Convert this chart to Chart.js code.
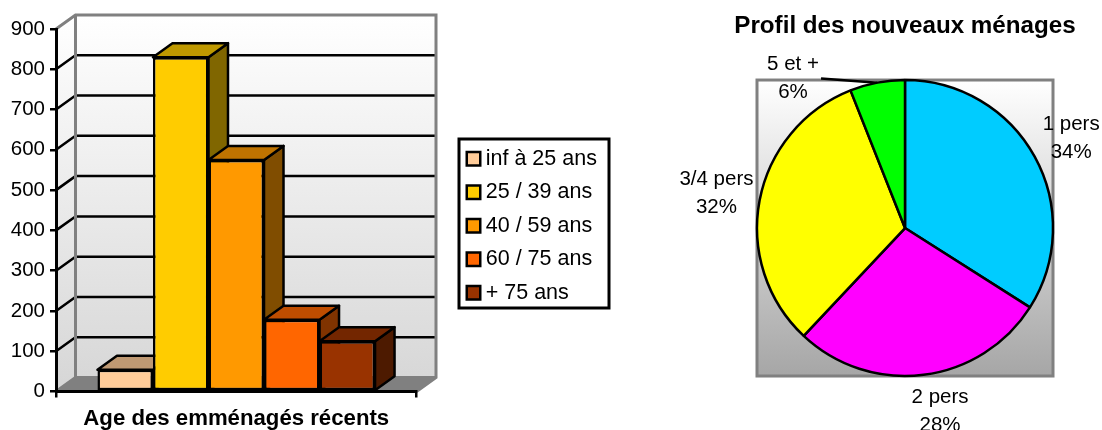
<!DOCTYPE html>
<html>
<head>
<meta charset="utf-8">
<script src="https://cdn.jsdelivr.net/npm/chart.js@4/dist/chart.umd.min.js"></script>
<style>
  body { margin: 0; background: #fff; overflow: hidden; }
  canvas { position: absolute; top: 0; }
  #age-chart { left: 0; }
  #profil-chart { left: 620px; }
</style>
</head>
<body>
<canvas id="age-chart" width="620" height="430"></canvas>
<canvas id="profil-chart" width="570" height="430"></canvas>
<script>
const ageLabels = ['inf à 25 ans', '25 / 39 ans', '40 / 59 ans', '60 / 75 ans', '+ 75 ans'];
const ageValues = [54, 830, 575, 178, 125];
const ageColors = ['#FFCC99', '#FFCC00', '#FF9900', '#FF6600', '#993300'];
const ageTitle = 'Age des emménagés récents';

const profilLabels = ['1 pers', '2 pers', '3/4 pers', '5 et +'];
const profilValues = [34, 28, 32, 6];
const profilColors = ['#00CCFF', '#FF00FF', '#FFFF00', '#00FF00'];
const profilTitle = 'Profil des nouveaux ménages';

Chart.defaults.font.family = '"Liberation Sans", Arial, sans-serif';
Chart.defaults.color = '#000';
Chart.defaults.animation = false;

const DEPTH_X = 19.5;
const DEPTH_Y = 14;
const WALL_GREY = '#808080';
const INK = 2.5;

// darker version of a bar colour, for the top and side faces
function shade(hex, k) {
  const n = parseInt(hex.slice(1), 16);
  const c = [n >> 16, (n >> 8) & 255, n & 255].map(v => Math.round(v * k));
  return `rgb(${c[0]},${c[1]},${c[2]})`;
}

function poly(ctx, pts, fill, stroke, width) {
  ctx.beginPath();
  pts.forEach((p, i) => i ? ctx.lineTo(p[0], p[1]) : ctx.moveTo(p[0], p[1]));
  ctx.closePath();
  if (fill) { ctx.fillStyle = fill; ctx.fill(); }
  if (stroke) { ctx.strokeStyle = stroke; ctx.lineWidth = width; ctx.stroke(); }
}

// back wall, side wall, floor and the gridlines that run across them
const boxWalls = {
  id: 'boxWalls',
  beforeDraw(chart) {
    const { ctx, chartArea: { left, right, top, bottom }, scales: { y } } = chart;
    const grad = ctx.createLinearGradient(0, top - DEPTH_Y, 0, bottom);
    grad.addColorStop(0, '#ffffff');
    grad.addColorStop(1, '#d6d6d6');
    const bx = left + DEPTH_X, tx = right + DEPTH_X;
    const by = bottom - DEPTH_Y, ty = top - DEPTH_Y;
    ctx.save();
    poly(ctx, [[bx, ty], [tx, ty], [tx, by], [bx, by]], grad);
    poly(ctx, [[left, top], [bx, ty], [bx, by], [left, bottom]], grad);
    poly(ctx, [[left, bottom], [bx, by], [tx, by], [right, bottom]], WALL_GREY);

    ctx.strokeStyle = '#000';
    ctx.lineWidth = INK;
    y.ticks.forEach(t => {
      if (t.value === 0 || t.value === y.max) return;
      const py = y.getPixelForValue(t.value);
      ctx.beginPath();
      ctx.moveTo(left, py);
      ctx.lineTo(bx, py - DEPTH_Y);
      ctx.lineTo(tx, py - DEPTH_Y);
      ctx.stroke();
    });

    ctx.strokeStyle = WALL_GREY;
    ctx.lineWidth = 3;
    ctx.beginPath();
    ctx.moveTo(left, top);
    ctx.lineTo(bx, ty);
    ctx.lineTo(tx, ty);
    ctx.lineTo(tx, by);
    ctx.lineTo(right, bottom);
    ctx.moveTo(bx, ty);
    ctx.lineTo(bx, by);
    ctx.lineTo(left, bottom);
    ctx.moveTo(bx, by);
    ctx.lineTo(tx, by);
    ctx.stroke();
    ctx.restore();
  }
};

// top and side faces of each bar; the fronts are drawn over them by the library
const barFaces = {
  id: 'barFaces',
  beforeDatasetsDraw(chart) {
    const { ctx } = chart;
    ctx.save();
    ctx.lineJoin = 'round';
    chart.data.datasets.forEach((ds, i) => {
      const bar = chart.getDatasetMeta(i).data[0];
      const { x, y, base, width } = bar.getProps(['x', 'y', 'base', 'width']);
      const l = x - width / 2, r = x + width / 2;
      poly(ctx, [[r, y], [r + DEPTH_X, y - DEPTH_Y], [r + DEPTH_X, base - DEPTH_Y], [r, base]],
        shade(ds.backgroundColor, 0.5), '#000', INK);
      poly(ctx, [[l, y], [l + DEPTH_X, y - DEPTH_Y], [r + DEPTH_X, y - DEPTH_Y], [r, y]],
        shade(ds.backgroundColor, 0.75), '#000', INK);
    });
    ctx.restore();
  }
};

// the legend sits beside the plot in its own framed box
const LEGEND_BOX = { left: 459, top: 139, right: 609, bottom: 308 };
const legendFrame = {
  id: 'legendFrame',
  afterLayout(chart) {
    const lg = chart.legend;
    lg.left = LEGEND_BOX.left + 1;
    lg.right = LEGEND_BOX.right;
    lg.top = LEGEND_BOX.top - 3;
    // roomy bottom edge so the entries stay in a single column
    lg.bottom = LEGEND_BOX.bottom + 60;
  },
  afterDraw(chart) {
    const { ctx } = chart;
    ctx.save();
    ctx.strokeStyle = '#000';
    ctx.lineWidth = 3;
    ctx.strokeRect(LEGEND_BOX.left, LEGEND_BOX.top,
      LEGEND_BOX.right - LEGEND_BOX.left, LEGEND_BOX.bottom - LEGEND_BOX.top);
    ctx.restore();
  }
};

new Chart(document.getElementById('age-chart'), {
  type: 'bar',
  data: {
    labels: [''],
    datasets: ageLabels.map((label, i) => ({
      label: label,
      data: [ageValues[i]],
      backgroundColor: ageColors[i],
      borderColor: '#000',
      borderWidth: INK,
      borderSkipped: false,
      barPercentage: 1,
      categoryPercentage: 0.77
    }))
  },
  options: {
    responsive: false,
    layout: { padding: { top: 29, right: 203.5, bottom: 0, left: 0 } },
    plugins: {
      title: { display: false },
      tooltip: { enabled: false },
      legend: {
        position: 'chartArea',
        align: 'start',
        labels: {
          usePointStyle: true,
          pointStyle: 'rect',
          boxWidth: 3,
          boxHeight: 13.5,
          padding: 12,
          font: { size: 21.5 }
        }
      }
    },
    scales: {
      x: {
        afterFit(scale) { scale.height = 38.5; },
        grid: { color: '#000', lineWidth: INK, tickLength: 6, drawOnChartArea: false },
        border: { color: '#000', width: 3 },
        ticks: { display: true },
        title: {
          display: true,
          text: ageTitle,
          font: { size: 22.2, weight: 'bold' },
          padding: { top: 0, bottom: -2 }
        }
      },
      y: {
        min: 0,
        max: 900,
        afterFit(scale) { scale.width = 56; },
        grid: { color: '#000', lineWidth: INK, tickLength: 6, drawOnChartArea: false },
        border: { color: '#000', width: 3 },
        ticks: { stepSize: 100, padding: 5, font: { size: 20.5 } }
      }
    }
  },
  plugins: [boxWalls, barFaces, legendFrame]
});

// shaded square behind the pie, sized from the pie itself
const pieBackdrop = {
  id: 'pieBackdrop',
  beforeDatasetsDraw(chart) {
    const { ctx } = chart;
    const { x, y, outerRadius: r } = chart.getDatasetMeta(0).data[0].getProps(['x', 'y', 'outerRadius']);
    const grad = ctx.createLinearGradient(0, y - r, 0, y + r);
    grad.addColorStop(0, '#ffffff');
    grad.addColorStop(1, '#a6a6a6');
    ctx.save();
    ctx.fillStyle = grad;
    ctx.fillRect(x - r, y - r, 2 * r, 2 * r);
    ctx.strokeStyle = WALL_GREY;
    ctx.lineWidth = 3;
    ctx.strokeRect(x - r, y - r, 2 * r, 2 * r);
    ctx.restore();
  }
};

// pixel nudges from the default label spot, one per slice
const labelNudge = [[-2, 3], [11, -7], [0, 1], [-76, 39]];
const LABEL_RADIUS = 1.297;
const LINE_HEIGHT = 28;

const pieLabels = {
  id: 'pieLabels',
  afterDatasetsDraw(chart) {
    const { ctx } = chart;
    const total = profilValues.reduce((a, b) => a + b, 0);
    ctx.save();
    ctx.font = '20.5px "Liberation Sans", Arial, sans-serif';
    ctx.textAlign = 'center';
    ctx.textBaseline = 'middle';
    chart.getDatasetMeta(0).data.forEach((arc, i) => {
      const { x, y, startAngle, endAngle, outerRadius } =
        arc.getProps(['x', 'y', 'startAngle', 'endAngle', 'outerRadius']);
      const mid = (startAngle + endAngle) / 2;
      const lx = x + Math.cos(mid) * outerRadius * LABEL_RADIUS + labelNudge[i][0];
      const ly = y + Math.sin(mid) * outerRadius * LABEL_RADIUS + labelNudge[i][1];
      // the smallest slice has its label pulled away, so it gets a leader line
      if (i === 3) {
        ctx.strokeStyle = '#000';
        ctx.lineWidth = INK;
        ctx.beginPath();
        ctx.moveTo(lx + 28, ly);
        ctx.lineTo(x + Math.cos(mid) * outerRadius, y + Math.sin(mid) * outerRadius);
        ctx.stroke();
      }
      ctx.fillStyle = '#000';
      ctx.fillText(profilLabels[i], lx, ly - LINE_HEIGHT / 2);
      ctx.fillText(Math.round(profilValues[i] / total * 100) + '%', lx, ly + LINE_HEIGHT / 2);
    });
    ctx.restore();
  }
};

new Chart(document.getElementById('profil-chart'), {
  type: 'pie',
  data: {
    labels: profilLabels,
    datasets: [{
      data: profilValues,
      backgroundColor: profilColors,
      borderColor: '#000',
      borderWidth: INK,
      radius: 148
    }]
  },
  options: {
    responsive: false,
    // the canvas runs past the window so the centred title lands over the pie
    layout: { padding: { top: 0, right: 0, bottom: 54, left: 0 } },
    plugins: {
      legend: { display: false },
      tooltip: { enabled: false },
      title: {
        display: true,
        text: profilTitle,
        font: { size: 24.2, weight: 'bold' },
        padding: { top: 11.5, bottom: 39.5 }
      }
    }
  },
  plugins: [pieBackdrop, pieLabels]
});
</script>
</body>
</html>
